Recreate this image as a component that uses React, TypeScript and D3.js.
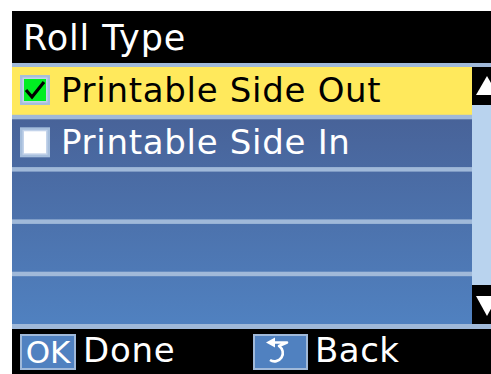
import React from "react";
import * as d3 from "d3";

const title = "Roll Type";
const options = ["Printable Side Out", "Printable Side In", "", "", ""];
const checked = [true, false, null, null, null];
const selectedIndex = 0;
const footerButtons = [
  { key: "OK", label: "Done" },
  { key: "back", label: "Back" },
];

const W = 491;
const H = 374;

export default function App() {
  const rowIdx = options.map((_, i) => i);
  const y = d3.scaleBand<number>().domain(rowIdx).range([67, 324]).paddingInner(0.086);
  const bw = y.bandwidth();
  const listRight = 472;
  const font = "'DejaVu Sans', Verdana, sans-serif";

  return (
    <svg width={W} height={H} style={{ position: "absolute", left: 0, top: 0 }}>
      <defs>
        <linearGradient id="rowGrad" gradientUnits="userSpaceOnUse" x1="0" y1="120" x2="0" y2="324">
          <stop offset="0" stopColor="#486399" />
          <stop offset="1" stopColor="#5081c0" />
        </linearGradient>
      </defs>
      <rect x={0} y={0} width={W} height={H} fill="#ffffff" />
      {/* title bar */}
      <rect x={12} y={11} width={W - 12} height={52} fill="#000" />
      <text x={23} y={50} fill="#fff" fontFamily={font} fontSize={35} letterSpacing={0.9}>
        {title}
      </text>
      {/* list background (separators) */}
      <rect x={12} y={63} width={W - 12} height={266} fill="#a0b9d9" />
      {rowIdx.map((i) => {
        const y0 = y(i)!;
        const sel = i === selectedIndex;
        return (
          <g key={i}>
            <rect x={12} y={y0} width={listRight - 12} height={bw} fill={sel ? "#ffe95c" : "url(#rowGrad)"} />
            {checked[i] !== null && (
              <g>
                <rect x={20} y={y0 + 8} width={30} height={30} fill="#a6bedc" />
                <rect x={22.5} y={y0 + 10.5} width={25} height={25} fill="#c3d3ea" />
                <rect x={24} y={y0 + 12} width={22} height={22} fill={checked[i] ? "#00ee22" : "#ffffff"} />
                {checked[i] && (
                  <path
                    d={`M26,${y0 + 23} L32,${y0 + 30} L44,${y0 + 15}`}
                    fill="none"
                    stroke="#000"
                    strokeWidth={3.2}
                  />
                )}
              </g>
            )}
            {options[i] && (
              <text x={61} y={y0 + 35} fill={sel ? "#000" : "#fff"} fontFamily={font} fontSize={34} letterSpacing={0.7}>
                {options[i]}
              </text>
            )}
          </g>
        );
      })}
      {/* scrollbar */}
      <rect x={listRight} y={67} width={W - listRight} height={257} fill="#b9d3ee" />
      <rect x={listRight} y={67} width={W - listRight} height={38} fill="#000" />
      <rect x={listRight} y={285} width={W - listRight} height={39} fill="#000" />
      <path d="M476,95 L487,76 L498,95 Z" fill="#fff" />
      <path d="M476,296 L487,316 L498,296 Z" fill="#fff" />
      {/* footer */}
      <rect x={12} y={329} width={W - 12} height={H - 329} fill="#000" />
      {/* OK button */}
      <rect x={21} y={335} width={54} height={34} fill="#5081c0" stroke="#a0b9d9" strokeWidth={2} />
      <text x={48} y={363} fill="#fff" fontFamily={font} fontSize={31} textAnchor="middle">
        {footerButtons[0].key}
      </text>
      <text x={83} y={362} fill="#fff" fontFamily={font} fontSize={34} letterSpacing={0.7}>
        {footerButtons[0].label}
      </text>
      {/* Back button */}
      <rect x={254} y={335} width={53} height={34} fill="#5081c0" stroke="#a0b9d9" strokeWidth={2} />
      <path
        d="M272,342.5 L287,342.5 L279,346 A7.5,7.5 0 1 1 270,360"
        fill="none"
        stroke="#fff"
        strokeWidth={2.6}
        strokeLinejoin="round"
      />
      <path d="M266,342.5 L275,337.5 L275,347.5 Z" fill="#fff" />
      <text x={315} y={362} fill="#fff" fontFamily={font} fontSize={34} letterSpacing={0.5}>
        {footerButtons[1].label}
      </text>
    </svg>
  );
}
